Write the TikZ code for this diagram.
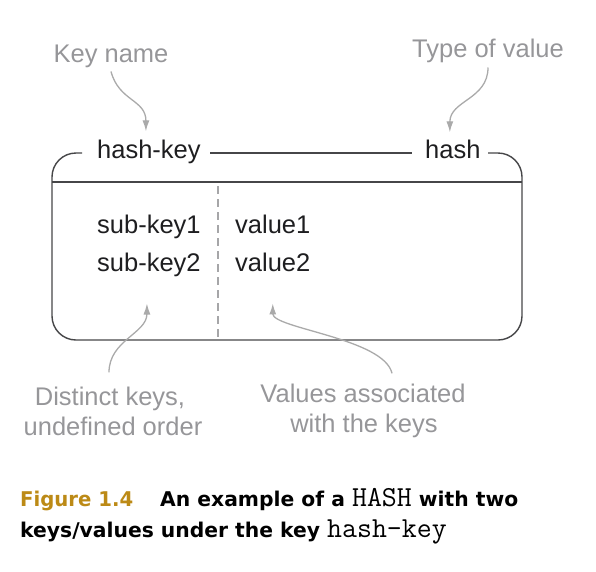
\documentclass[tikz,border=0pt]{standalone}
\usepackage{fontspec}
\usepackage{graphicx}
\setmainfont{Liberation Sans}
\newfontfamily\capfont{DejaVu Sans}
\newfontfamily\capmono{Latin Modern Mono}
\usetikzlibrary{arrows.meta}
\definecolor{boxc}{RGB}{70,70,72}
\definecolor{annc}{RGB}{150,150,153}
\definecolor{arrc}{RGB}{170,170,170}
\definecolor{gold}{RGB}{188,138,22}
\definecolor{txtc}{RGB}{30,30,32}
\begin{document}
\begin{tikzpicture}[x=1pt,y=-1pt,
  boxline/.style={draw=boxc,line width=1.4pt},
  dashline/.style={draw=annc!85,line width=1.2pt,dash pattern=on 8pt off 5pt},
  ann/.style={draw=arrc,line width=1.3pt,-{Latex[length=11pt,width=7pt]}},
  maintxt/.style={inner sep=0pt,anchor=base west,text=txtc,font=\fontsize{25.5}{30}\selectfont},
  anntxt/.style={inner sep=0pt,anchor=base,text=annc,font=\fontsize{25.5}{30}\selectfont},
  captxt/.style={inner sep=0pt,anchor=base west,text=black,font=\capfont\bfseries\fontsize{20.3}{24}\selectfont}
]
\useasboundingbox (0,0) rectangle (596,571);
% box
\draw[boxline,rounded corners=24pt] (82,153) -- (52,153) -- (52,340) -- (522,340) -- (522,153) -- (488,153);
\draw[boxline] (210,153) -- (412,153);
\draw[boxline] (52,182) -- (522,182);
\draw[dashline] (218,186) -- (218,339);
% texts
\node[maintxt] (hashkey) at (97,158) {hash-key};
\node[maintxt] (hash) at (425,158) {hash};
\node[maintxt] (sk1) at (97,233) {sub-key1};
\node[maintxt] (sk2) at (97,271) {sub-key2};
\node[maintxt] (v1) at (235,233) {value1};
\node[maintxt] (v2) at (235,271) {value2};
% annotations
\node[anntxt] (keyname) at (111,62) {Key name};
\node[anntxt] (typeval) at (488,57) {Type of value};
\node[anntxt] (dk1) at (110,405) {Distinct keys,};
\node[anntxt] (dk2) at (113,435) {undefined order};
\node[anntxt] (va1) at (363,402) {Values associated};
\node[anntxt] (va2) at (364,432) {with the keys};
% arrows
\draw[ann] ([yshift=-4pt]keyname.south) .. controls +(8,30) and +(0,-32) .. ([xshift=-3pt,yshift=8pt]hashkey.north);
\draw[ann] ([yshift=-5pt]typeval.south) .. controls +(0,32) and +(0,-32) .. ([xshift=-3pt,yshift=7pt]hash.north);
\draw[ann] ([xshift=-1pt,yshift=14pt]dk1.north) .. controls +(0,-32) and +(0,30) .. ([xshift=-2pt,yshift=-27pt]sk2.south);
\draw[ann] ([xshift=29pt,yshift=10pt]va1.north) .. controls +(-8,-35) and +(0,25) .. ([xshift=0pt,yshift=-32pt]v2.south);
% caption
\node[captxt,text=gold] (fig) at (20,506) {\resizebox{113pt}{\height}{Figure 1.4}};
\node[captxt] (cap1) at (160,506) {An example of a {\capmono\mdseries\fontsize{29}{30}\selectfont HASH} with two};
\node[captxt] (cap2) at (20,537) {keys/values under the key {\capmono\mdseries\fontsize{29}{30}\selectfont hash-key}};
\end{tikzpicture}
\end{document}
